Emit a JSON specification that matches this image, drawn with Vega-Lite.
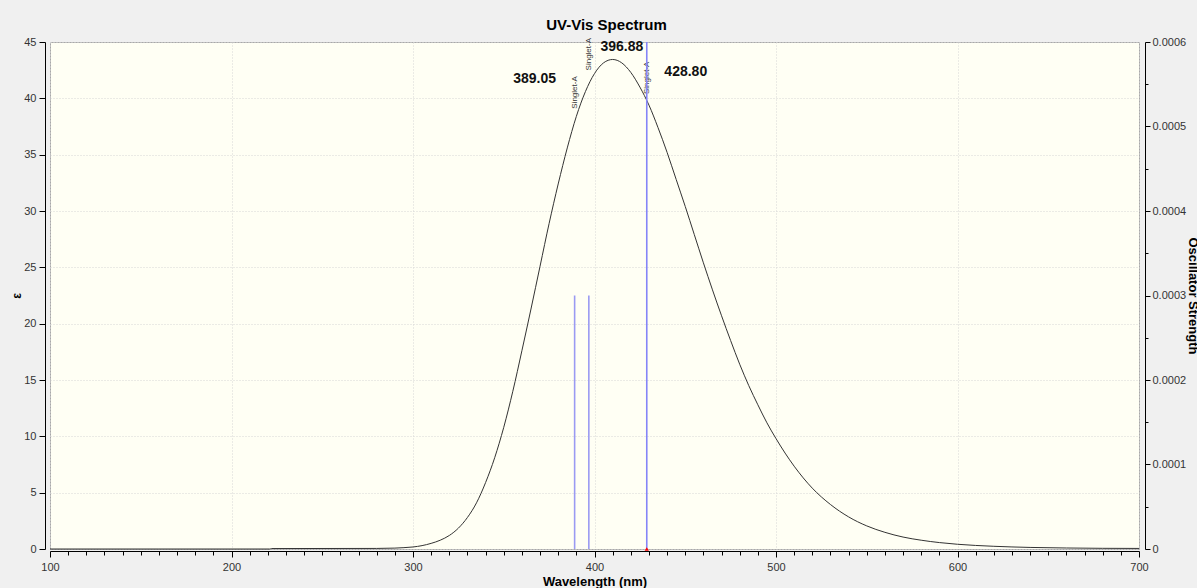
{
  "$schema": "https://vega.github.io/schema/vega-lite/v6.json",
  "width": 1089,
  "height": 507,
  "autosize": {"type": "none"},
  "padding": {"left": 50, "top": 42, "right": 58, "bottom": 39},
  "background": "#f0f0f0",
  "config": {
    "view": {"fill": "#fffff4", "stroke": "#a8a8a8", "strokeWidth": 1},
    "font": "Liberation Sans",
    "axis": {
      "labelFont": "Liberation Sans",
      "labelFontSize": 11,
      "labelColor": "#333333",
      "domainColor": "#000000",
      "tickColor": "#000000",
      "titleFont": "Liberation Sans",
      "titleFontWeight": "bold",
      "titleColor": "#000000",
      "gridColor": "#d6d6d6",
      "gridDash": [1, 2]
    }
  },
  "title": {
    "text": "UV-Vis Spectrum",
    "fontSize": 15,
    "font": "Liberation Sans",
    "fontWeight": "bold",
    "color": "#000000",
    "anchor": "middle",
    "baseline": "alphabetic",
    "offset": 13,
    "dx": 12,
    "dy": 22
  },
  "datasets": {
    "spectrum": [
      {"wavelength": 100, "eps": 0},
      {"wavelength": 160, "eps": 0},
      {"wavelength": 221, "eps": 0},
      {"wavelength": 222, "eps": 0.04},
      {"wavelength": 280, "eps": 0.05},
      {"wavelength": 290, "eps": 0.08},
      {"wavelength": 295, "eps": 0.12},
      {"wavelength": 300, "eps": 0.18},
      {"wavelength": 305, "eps": 0.3},
      {"wavelength": 310, "eps": 0.5},
      {"wavelength": 315, "eps": 0.78},
      {"wavelength": 320, "eps": 1.2},
      {"wavelength": 325, "eps": 1.85},
      {"wavelength": 330, "eps": 2.8},
      {"wavelength": 335, "eps": 4.1},
      {"wavelength": 340, "eps": 5.9},
      {"wavelength": 345, "eps": 8.1},
      {"wavelength": 350, "eps": 10.8},
      {"wavelength": 355, "eps": 14.0},
      {"wavelength": 360, "eps": 17.6},
      {"wavelength": 365, "eps": 21.3},
      {"wavelength": 370, "eps": 25.1},
      {"wavelength": 375, "eps": 28.9},
      {"wavelength": 380, "eps": 32.4},
      {"wavelength": 385, "eps": 35.6},
      {"wavelength": 390, "eps": 38.4},
      {"wavelength": 395, "eps": 40.6},
      {"wavelength": 400, "eps": 42.2},
      {"wavelength": 405, "eps": 43.15},
      {"wavelength": 410, "eps": 43.45},
      {"wavelength": 415, "eps": 43.15},
      {"wavelength": 420, "eps": 42.3},
      {"wavelength": 425, "eps": 41.0},
      {"wavelength": 430, "eps": 39.4},
      {"wavelength": 435, "eps": 37.4},
      {"wavelength": 440, "eps": 35.2},
      {"wavelength": 445, "eps": 32.8},
      {"wavelength": 450, "eps": 30.4},
      {"wavelength": 455, "eps": 27.9},
      {"wavelength": 460, "eps": 25.4},
      {"wavelength": 465, "eps": 23.0},
      {"wavelength": 470, "eps": 20.7},
      {"wavelength": 475, "eps": 18.5},
      {"wavelength": 480, "eps": 16.4},
      {"wavelength": 485, "eps": 14.5},
      {"wavelength": 490, "eps": 12.8},
      {"wavelength": 495, "eps": 11.2},
      {"wavelength": 500, "eps": 9.8},
      {"wavelength": 510, "eps": 7.35},
      {"wavelength": 520, "eps": 5.4},
      {"wavelength": 530, "eps": 3.95},
      {"wavelength": 540, "eps": 2.85},
      {"wavelength": 550, "eps": 2.05},
      {"wavelength": 560, "eps": 1.48},
      {"wavelength": 570, "eps": 1.06},
      {"wavelength": 580, "eps": 0.78},
      {"wavelength": 590, "eps": 0.57},
      {"wavelength": 600, "eps": 0.42},
      {"wavelength": 620, "eps": 0.24},
      {"wavelength": 640, "eps": 0.14},
      {"wavelength": 660, "eps": 0.09},
      {"wavelength": 680, "eps": 0.06},
      {"wavelength": 700, "eps": 0.05}
    ],
    "sticks": [
      {"wavelength": 389.05, "f": 0.0003, "eps": 38.9, "state": "Singlet-A"},
      {"wavelength": 396.88, "f": 0.0003, "eps": 42.3, "state": "Singlet-A"},
      {"wavelength": 428.80, "f": 0.0006, "eps": 40.2, "state": "Singlet-A"}
    ]
  },
  "encoding": {
    "x": {
      "field": "wavelength",
      "type": "quantitative",
      "scale": {"domain": [100, 700], "nice": false, "zero": false},
      "axis": {
        "orient": "bottom",
        "offset": 2,
        "values": [100,110,120,130,140,150,160,170,180,190,200,210,220,230,240,250,260,270,280,290,300,310,320,330,340,350,360,370,380,390,400,410,420,430,440,450,460,470,480,490,500,510,520,530,540,550,560,570,580,590,600,610,620,630,640,650,660,670,680,690,700],
        "labelExpr": "datum.value % 100 === 0 ? datum.label : ''",
        "tickSize": {"condition": {"test": "datum.value % 100 === 0", "value": 6}, "value": 4},
        "gridOpacity": {"condition": {"test": "datum.value % 100 === 0", "value": 1}, "value": 0},
        "grid": true,
        "labelPadding": 4,
        "labelFlush": false,
        "title": "Wavelength (nm)",
        "titleFontSize": 13,
        "titlePadding": 3
      }
    }
  },
  "layer": [
    {
      "encoding": {
        "y": {
          "field": "eps",
          "type": "quantitative",
          "scale": {"domain": [0, 45], "nice": false},
          "axis": {
            "orient": "left",
            "offset": 5,
            "values": [0,5,10,15,20,25,30,35,40,45],
            "grid": true,
            "tickSize": 6,
            "labelPadding": 3,
            "title": "ε",
            "titleFontSize": 12,
            "titlePadding": 0
          }
        }
      },
      "layer": [
        {
          "data": {"name": "spectrum"},
          "mark": {"type": "line", "color": "#333333", "strokeWidth": 1, "interpolate": "monotone"}
        },
        {
          "data": {"name": "sticks"},
          "mark": {"type": "text", "angle": 270, "align": "left", "baseline": "middle", "fontSize": 8, "color": "#333333", "dx": 2},
          "encoding": {"text": {"field": "state"}}
        },
        {
          "data": {"name": "sticks"},
          "transform": [{"filter": "datum.wavelength < 390"}],
          "mark": {"type": "text", "align": "center", "baseline": "middle", "fontSize": 14, "fontWeight": "bold", "color": "#111111", "dx": -40, "dy": -32},
          "encoding": {"text": {"field": "wavelength", "format": ".2f"}}
        },
        {
          "data": {"name": "sticks"},
          "transform": [{"filter": "datum.wavelength > 390 && datum.wavelength < 400"}],
          "mark": {"type": "text", "align": "center", "baseline": "middle", "fontSize": 14, "fontWeight": "bold", "color": "#111111", "dx": 33, "dy": -25},
          "encoding": {"text": {"field": "wavelength", "format": ".2f"}}
        },
        {
          "data": {"name": "sticks"},
          "transform": [{"filter": "datum.wavelength > 420"}],
          "mark": {"type": "text", "align": "center", "baseline": "middle", "fontSize": 14, "fontWeight": "bold", "color": "#111111", "dx": 39, "dy": -24},
          "encoding": {"text": {"field": "wavelength", "format": ".2f"}}
        }
      ]
    },
    {
      "data": {"name": "sticks"},
      "encoding": {
        "y": {
          "field": "f",
          "type": "quantitative",
          "scale": {"domain": [0, 0.0006], "nice": false},
          "axis": {
            "orient": "right",
            "offset": 6,
            "values": [0,0.00005,0.0001,0.00015,0.0002,0.00025,0.0003,0.00035,0.0004,0.00045,0.0005,0.00055,0.0006],
            "labelExpr": "abs(datum.value*10000 - round(datum.value*10000)) < 0.001 ? (datum.value == 0 ? '0' : format(datum.value, '.4f')) : ''",
            "tickSize": {"condition": {"test": "abs(datum.value*10000 - round(datum.value*10000)) < 0.001", "value": 5}, "value": 3},
            "grid": false,
            "labelPadding": 2,
            "title": "Oscillator Strength",
            "titleFontSize": 13,
            "titlePadding": 0
          }
        }
      },
      "layer": [
        {
          "mark": {"type": "rule", "strokeWidth": 1.6},
          "encoding": {
            "y2": {"datum": 0},
            "color": {"condition": {"test": "datum.wavelength > 420", "value": "#8585f8"}, "value": "#9a9af2"}
          }
        },
        {
          "transform": [{"filter": "datum.wavelength > 420"}],
          "mark": {"type": "point", "shape": "triangle-up", "filled": true, "color": "#ff0000", "size": 18, "opacity": 1},
          "encoding": {"y": {"datum": 0}}
        }
      ]
    }
  ],
  "resolve": {"scale": {"y": "independent"}}
}
